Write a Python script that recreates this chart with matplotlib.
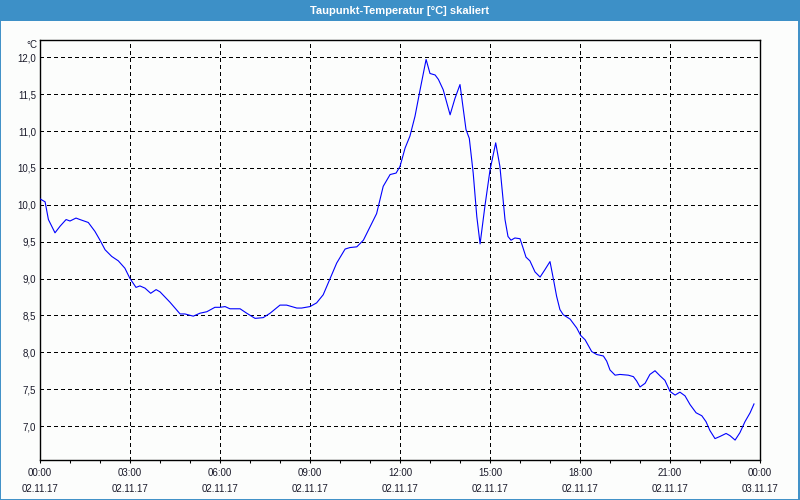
import numpy as np
import matplotlib
matplotlib.use("Agg")
import matplotlib.pyplot as plt
from matplotlib.ticker import FixedLocator, FuncFormatter, MultipleLocator
from matplotlib.patches import Rectangle

# Taupunkt 02.11.17, Stunden seit Mitternacht / °C
hours = [0.00, 0.17, 0.28, 0.50, 0.67, 0.87, 1.00, 1.20, 1.33, 1.61, 1.83, 2.00,
         2.17, 2.39, 2.61, 2.83, 3.00, 3.20, 3.33, 3.50, 3.69, 3.87, 4.00, 4.33,
         4.67, 4.83, 5.11, 5.33, 5.56, 5.83, 6.00, 6.17, 6.33, 6.67, 6.89, 7.17,
         7.44, 7.67, 8.00, 8.22, 8.56, 8.72, 9.00, 9.22, 9.44, 9.67, 9.89, 10.17,
         10.33, 10.56, 10.78, 11.00, 11.22, 11.44, 11.67, 11.87, 12.00, 12.17, 12.33, 12.50,
         12.67, 12.87, 13.00, 13.17, 13.28, 13.44, 13.67, 13.83, 14.00, 14.20, 14.31, 14.44,
         14.56, 14.67, 14.83, 15.00, 15.19, 15.33, 15.50, 15.60, 15.70, 15.83, 16.00, 16.09,
         16.20, 16.33, 16.50, 16.67, 16.83, 17.00, 17.11, 17.22, 17.33, 17.44, 17.67, 17.89,
         18.02, 18.17, 18.39, 18.56, 18.78, 18.89, 19.00, 19.17, 19.33, 19.61, 19.78, 19.89,
         20.00, 20.17, 20.33, 20.50, 20.67, 20.83, 21.00, 21.17, 21.33, 21.50, 21.67, 21.87,
         22.06, 22.20, 22.33, 22.50, 22.67, 22.87, 23.00, 23.17, 23.33, 23.50, 23.67, 23.80]
dewpoint = [10.08, 10.04, 9.80, 9.62, 9.71, 9.80, 9.78, 9.82, 9.80, 9.76, 9.64, 9.52,
            9.39, 9.30, 9.24, 9.14, 9.00, 8.88, 8.90, 8.87, 8.80, 8.85, 8.82, 8.68,
            8.52, 8.52, 8.49, 8.53, 8.55, 8.61, 8.61, 8.62, 8.59, 8.59, 8.53, 8.46,
            8.47, 8.53, 8.64, 8.64, 8.60, 8.60, 8.62, 8.67, 8.78, 9.00, 9.21, 9.40,
            9.42, 9.43, 9.52, 9.70, 9.88, 10.25, 10.41, 10.43, 10.52, 10.77, 10.93, 11.20,
            11.56, 11.97, 11.78, 11.76, 11.70, 11.56, 11.22, 11.44, 11.63, 11.02, 10.90, 10.43,
            9.84, 9.47, 9.98, 10.47, 10.84, 10.52, 9.80, 9.57, 9.52, 9.55, 9.54, 9.43,
            9.29, 9.24, 9.09, 9.02, 9.12, 9.23, 9.00, 8.76, 8.58, 8.51, 8.45, 8.33,
            8.23, 8.17, 8.01, 7.97, 7.95, 7.88, 7.76, 7.69, 7.70, 7.69, 7.67, 7.61,
            7.53, 7.58, 7.70, 7.75, 7.68, 7.62, 7.47, 7.42, 7.46, 7.41, 7.29, 7.18,
            7.14, 7.06, 6.94, 6.83, 6.86, 6.90, 6.87, 6.81, 6.91, 7.06, 7.18, 7.30]

tick_hours = [0, 3, 6, 9, 12, 15, 18, 21, 24]
tick_labels = ["00:00\n02.11.17", "03:00\n02.11.17", "06:00\n02.11.17",
               "09:00\n02.11.17", "12:00\n02.11.17", "15:00\n02.11.17",
               "18:00\n02.11.17", "21:00\n02.11.17", "00:00\n03.11.17"]
title = "Taupunkt-Temperatur [°C] skaliert"

blue = "#3d90c7"
txt = "#1a1a2a"

fig = plt.figure(figsize=(8, 5), dpi=100, facecolor="#fcfdfc")

# Titelleiste und Rahmen
fig.patches.append(Rectangle((0, 0.958), 1, 0.042, transform=fig.transFigure,
                             facecolor=blue, edgecolor="none", zorder=0))
fig.patches.append(Rectangle((0.0006, 0.001), 0.9982, 0.998, transform=fig.transFigure,
                             facecolor="none", edgecolor=blue, linewidth=1.4, zorder=0))
fig.text(0.5, 0.979, title, ha="center", va="center", color="white",
         fontsize=8, fontweight="bold", family="Liberation Sans")

ax = fig.add_axes([0.05, 0.08, 0.9, 0.84])
ax.set_facecolor("#fcfdfc")
ax.plot(hours, dewpoint, color="#0000ff", linewidth=0.8, zorder=3)

ax.set_xlim(0, 24)
ax.set_ylim(6.54, 12.234)

ax.xaxis.set_major_locator(FixedLocator(tick_hours))
ax.set_xticklabels(tick_labels)
ax.xaxis.set_minor_locator(MultipleLocator(1))
ax.yaxis.set_major_locator(FixedLocator(np.arange(7.0, 12.01, 0.5)))
ax.yaxis.set_major_formatter(FuncFormatter(lambda v, p: f"{v:.1f}".replace(".", ",")))

ax.grid(True, which="major", color="black", linestyle=(0, (3, 3)), linewidth=0.75,
        antialiased=False)

for lab in ax.get_xticklabels():
    lab.set_linespacing(1.7)
ax.tick_params(axis="x", which="both", direction="out", length=2.5, width=0.75,
               colors="black", labelcolor=txt, labelsize=7, pad=3.5)
ax.tick_params(axis="y", length=0, labelcolor=txt, labelsize=7, pad=3)
for lab in ax.get_xticklabels() + ax.get_yticklabels():
    lab.set_family("Liberation Sans")

for s in ax.spines.values():
    s.set_color("black")
    s.set_linewidth(1.0)

ax.annotate("°C", xy=(0, 1), xycoords="axes fraction", xytext=(-3, -5),
            textcoords="offset pixels", ha="right", va="center",
            fontsize=7, color=txt, family="Liberation Sans")

fig.savefig("out.png", dpi=100, facecolor=fig.get_facecolor())
